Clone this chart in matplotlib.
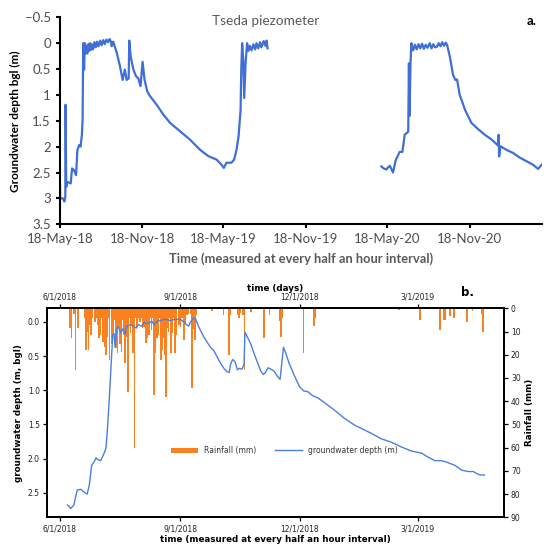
import matplotlib
matplotlib.use("Agg")
import matplotlib.pyplot as plt
import matplotlib.dates as mdates
import pandas as pd

# ---- panel a: Tseda piezometer, days counted from 18 May 2018 ----
start_a = pd.Timestamp("2018-05-18")
seg2018_day = [0, 0.5, 7, 10, 12, 12.6, 14, 16, 24, 27,
               31, 36, 39, 43, 46, 49, 50.6, 52, 54, 55.5,
               57, 59, 61, 63, 65, 67, 69, 71, 74, 77,
               80, 83, 86, 90, 93, 97, 100, 104, 108, 111,
               114, 115.5, 119, 127, 134, 140, 145, 149, 153.5, 154.8,
               158, 164, 170, 175, 180, 184.6, 189, 195, 201, 216,
               231, 246, 268, 290, 313, 331, 350, 361, 366, 372,
               383, 389, 394.5, 399, 403.5, 405, 407, 409.4, 411.6, 414.6,
               418, 421, 424, 428, 432, 436, 439, 443, 447, 450,
               455, 459, 461.6, 463.8]
seg2018_depth = [2.71, 3.00, 3.00, 3.06, 2.97, 1.19, 2.78, 2.68, 2.71, 2.42,
                 2.45, 2.55, 2.06, 1.97, 2.00, 1.77, 1.48, 0.00, 0.51, 0.00,
                 0.20, 0.05, 0.20, 0.02, 0.15, 0.00, 0.13, 0.02, 0.12, -0.02,
                 0.08, -0.03, 0.06, -0.05, 0.04, -0.06, 0.02, -0.07, -0.02, -0.08,
                 -0.03, 0.06, -0.03, 0.19, 0.44, 0.71, 0.51, 0.71, 0.68, -0.05,
                 0.26, 0.51, 0.64, 0.68, 0.83, 0.36, 0.71, 0.93, 1.02, 1.19,
                 1.38, 1.54, 1.70, 1.86, 2.06, 2.18, 2.25, 2.35, 2.41, 2.31,
                 2.31, 2.25, 2.06, 1.80, 1.29, 0.51, 0.00, 0.32, 1.06, 0.39,
                 0.00, 0.15, 0.05, 0.14, 0.02, 0.12, 0.00, 0.10, -0.02, 0.08,
                 -0.04, 0.05, -0.05, 0.10]

seg2020_day = [718, 723, 729, 733, 737, 744, 750, 759, 765, 770,
               778, 779.5, 781, 783, 785, 789, 793, 797, 801, 805,
               809, 813, 817, 821, 826, 830, 834, 838, 842, 846,
               850, 854, 858, 862, 865, 871, 878, 883, 887, 893,
               905, 919, 934, 949, 964, 979, 980, 981, 984, 997,
               1012, 1027, 1042, 1057, 1068, 1076]
seg2020_depth = [2.38, 2.42, 2.44, 2.40, 2.37, 2.50, 2.26, 2.10, 2.10, 1.77,
                 1.71, 0.39, 1.40, 0.40, 0.00, 0.14, 0.03, 0.12, 0.02, 0.10,
                 0.01, 0.11, 0.03, 0.09, 0.00, 0.10, 0.02, 0.08, 0.07, 0.00,
                 0.06, -0.02, 0.05, -0.01, 0.04, 0.26, 0.61, 0.71, 0.70, 1.00,
                 1.29, 1.54, 1.66, 1.77, 1.86, 1.98, 1.77, 2.19, 1.99, 2.06,
                 2.12, 2.21, 2.28, 2.35, 2.43, 2.35]

a_ticks = ["2018-05-18", "2018-11-18", "2019-05-18", "2019-11-18", "2020-05-18", "2020-11-18"]
a_yticks = [-0.5, 0, 0.5, 1, 1.5, 2, 2.5, 3, 3.5]
a_ylabels = ["\u22120.5", "0", "0.5", "1", "1.5", "2", "2.5", "3", "3.5"]

# ---- panel b: groundwater + rainfall, days counted from 1 June 2018 ----
start_b = pd.Timestamp("2018-06-01")
gw_day = [5.9, 8.4, 10.7, 13.3, 16.1, 18.4, 20.9, 22.5, 24.3, 26.1,
          27.6, 29.4, 31.2, 33.2, 35.2, 36.2, 37.8, 39.4, 40.4, 41.4,
          42.2, 43.5, 44.7, 46.5, 48.1, 49.8, 51.1, 53.7, 56.2, 58.3,
          60, 62.6, 64.4, 67.7, 70.3, 72, 74.1, 76.7, 80.5, 84.3,
          88.2, 92, 94.6, 96.6, 98.4, 99.7, 101.7, 103.5, 106, 109.9,
          115, 117.6, 121.4, 125.2, 127.8, 129.3, 130.3, 131.9, 133.7, 135.5,
          137, 139, 140.6, 141.3, 143.1, 145.7, 148.2, 150.8, 153.4, 155.4,
          157.2, 159, 161, 163.6, 166.2, 168.1, 169.2, 170.7, 172.5, 175.1,
          178.9, 182.7, 186.1, 189.2, 193, 196.9, 201.9, 209.6, 217.2, 224.9,
          231.3, 237.7, 245.3, 253, 260.7, 268.3, 276, 281.1, 286.2, 291.3,
          296.4, 301.6, 306.7, 311.8, 315.6, 318.2, 320.7, 324]
gw_depth = [2.68, 2.73, 2.68, 2.46, 2.45, 2.49, 2.52, 2.39, 2.10, 2.05,
            1.99, 2.02, 2.03, 1.95, 1.85, 1.61, 1.12, 0.54, 0.19, 0.17,
            0.37, 0.10, 0.07, 0.16, 0.10, 0.18, 0.06, 0.04, 0.06, 0.09,
            0.04, 0.06, 0.01, 0.02, -0.01, 0.04, -0.01, -0.02, -0.04, -0.02,
            -0.04, -0.04, 0.00, 0.04, 0.06, 0.00, -0.05, -0.05, 0.07, 0.22,
            0.37, 0.42, 0.56, 0.68, 0.73, 0.74, 0.62, 0.55, 0.58, 0.70,
            0.68, 0.69, 0.62, 0.15, 0.22, 0.32, 0.46, 0.59, 0.72, 0.77,
            0.73, 0.67, 0.69, 0.72, 0.80, 0.84, 0.64, 0.37, 0.46, 0.61,
            0.78, 0.94, 1.01, 1.02, 1.08, 1.11, 1.18, 1.29, 1.41, 1.51,
            1.57, 1.63, 1.71, 1.76, 1.83, 1.89, 1.92, 1.98, 2.03, 2.03,
            2.06, 2.10, 2.17, 2.19, 2.19, 2.22, 2.24, 2.24]

rain_day = [8, 9, 11, 12, 14, 19, 20, 21, 22, 23,
            24, 25, 27, 28, 29, 30, 31, 32, 33, 34,
            35, 36, 37, 38, 40, 41, 42, 43, 44, 45,
            46, 47, 48, 49, 50, 51, 52, 53, 54, 55,
            56, 57, 58, 59, 60, 61, 62, 63, 64, 65,
            66, 67, 68, 69, 70, 71, 72, 73, 74, 75,
            76, 77, 78, 79, 80, 81, 82, 83, 84, 85,
            86, 87, 88, 89, 91, 92, 93, 95, 96, 97,
            98, 100, 101, 102, 103, 104, 116, 125, 129, 130,
            136, 137, 138, 140, 141, 146, 156, 160, 168, 169,
            170, 186, 194, 195, 259, 275, 290, 293, 294, 298,
            301, 311, 315, 322, 323]
rain_mm = [8.3, 12.9, 2.6, 26.5, 8.3, 4.3, 18, 10, 18, 7,
           11.5, 4.3, 5.7, 4, 7.2, 12.9, 11.5, 4, 14.4, 16.5,
           20.1, 12.2, 4, 22.3, 15.4, 11.5, 5, 17.2, 19.4, 7.9,
           15.4, 18.7, 5, 11.5, 23.7, 12.2, 35.9, 4, 10.8, 7.2,
           19.4, 60.3, 4, 7.9, 4, 5.7, 4, 8.6, 7.9, 4,
           15.1, 12.9, 11.5, 4, 9.3, 4, 37.3, 19.4, 12.9, 11.5,
           4, 22.3, 18, 12.9, 20.1, 38.1, 8.6, 10, 4, 19.4,
           10.8, 4, 19.4, 11.5, 7.2, 7.9, 4.3, 13.7, 6.5, 3,
           2.6, 2.6, 34.4, 8.8, 13.7, 2.9, 1, 3, 20, 3,
           3, 4.3, 2, 3, 26.6, 1.5, 12.9, 3, 5.6, 12.2,
           4.3, 19.4, 7.7, 4.3, 0.9, 5, 9.3, 5, 5, 3.5,
           4, 6, 1, 2.3, 10]

b_ticks = ["2018-06-01", "2018-09-01", "2018-12-01", "2019-03-01"]


def to_dates(start, days):
    return start + pd.to_timedelta(days, unit="D")


fig = plt.figure(figsize=(5.5, 5.49), dpi=100)

# ---------------- panel a ----------------
ax_a = fig.add_axes([0.109, 0.5914, 0.8758, 0.3771])
blue_a = "#3f6fd6"
ax_a.plot(to_dates(start_a, seg2018_day), seg2018_depth, color=blue_a, lw=1.6)
ax_a.plot(to_dates(start_a, seg2020_day), seg2020_depth, color=blue_a, lw=1.6)
ax_a.set_xlim(pd.Timestamp("2018-05-18"), pd.Timestamp("2021-04-28"))
ax_a.set_ylim(3.5, -0.5)
ax_a.set_yticks(a_yticks)
ax_a.set_yticklabels(a_ylabels)
ax_a.set_xticks(pd.to_datetime(a_ticks))
ax_a.xaxis.set_major_formatter(mdates.DateFormatter("%d-%b-%y"))
for s in ["top", "right"]:
    ax_a.spines[s].set_visible(False)
for s in ["left", "bottom"]:
    ax_a.spines[s].set_linewidth(1.5)
ax_a.tick_params(labelsize=9.5, labelcolor="#4d4d4d", length=3, width=1.5)
for lab in ax_a.get_xticklabels() + ax_a.get_yticklabels():
    lab.set_family("Lato")
ax_a.set_ylabel("Groundwater depth bgl (m)", fontsize=8.5, fontweight="bold",
                family="Lato", labelpad=3)
ax_a.set_xlabel("Time (measured at every half an hour interval)", fontsize=9.3,
                fontweight="bold", color="#595959", family="Lato", labelpad=5)
fig.text(266 / 550, 1 - 21 / 549, "Tseda piezometer", fontsize=9.8, color="#595959",
         family="Lato", ha="center", va="center")
fig.text(532 / 550, 1 - 21 / 549, "a.", fontsize=9.5, fontweight="bold",
         family="Lato", ha="center", va="center")

# ---------------- panel b ----------------
ax_b = fig.add_axes([0.0849, 0.0577, 0.8315, 0.3807])
ax_r = ax_b.twinx()
ax_t = ax_b.twiny()
ax_b.set_zorder(ax_r.get_zorder() + 1)
ax_b.patch.set_visible(False)

bars = ax_r.bar(to_dates(start_b, rain_day), rain_mm, width=1.3,
                color="#f98120", label="Rainfall (mm)")
line, = ax_b.plot(to_dates(start_b, gw_day), gw_depth, color="#4a7fe0", lw=1.0,
                  label="groundwater depth (m)")

xl = (pd.Timestamp("2018-05-22"), pd.Timestamp("2019-05-06"))
ax_b.set_xlim(xl)
ax_t.set_xlim(xl)
ax_b.set_ylim(2.86, -0.2)
ax_r.set_ylim(90, 0)
ax_b.set_yticks([0.0, 0.5, 1.0, 1.5, 2.0, 2.5])
ax_r.set_yticks(range(0, 91, 10))
for ax in (ax_b, ax_t):
    ax.set_xticks(pd.to_datetime(b_ticks))
    ax.xaxis.set_major_formatter(mdates.DateFormatter("%-m/%-d/%Y"))
for ax in (ax_b, ax_r, ax_t):
    ax.tick_params(labelsize=5.5, length=3, width=0.9, pad=2, labelcolor="#222222")
    for sp in ax.spines.values():
        sp.set_linewidth(1.2)

ax_b.set_ylabel("groundwater depth (m, bgl)", fontsize=6.3, fontweight="bold", labelpad=3)
ax_b.set_xlabel("time (measured at every half an hour interval)", fontsize=6.3,
                fontweight="bold", labelpad=1)
ax_t.set_xlabel("time (days)", fontsize=6.3, fontweight="bold", labelpad=1)
ax_r.set_ylabel("Rainfall (mm)", fontsize=6.3, fontweight="bold", labelpad=3)

ax_b.legend(handles=[bars, line], loc="center", bbox_to_anchor=(0.52, 0.32),
            ncol=2, frameon=False, fontsize=5.5, handlelength=3.5, columnspacing=2.5,
            labelcolor="#333333")
fig.text(467 / 550, 1 - 292 / 549, "b.", fontsize=8.5, fontweight="bold",
         ha="center", va="center")

fig.savefig("out.png", dpi=100)
